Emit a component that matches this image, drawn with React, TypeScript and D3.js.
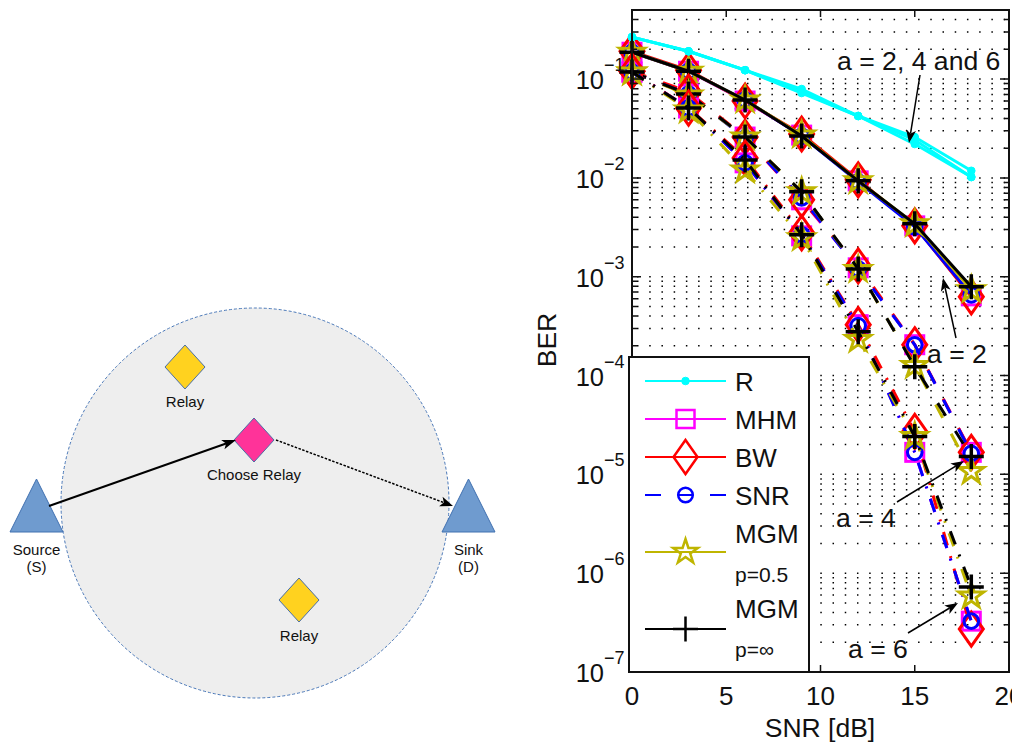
import React from "react";
import * as d3 from "d3";

const snrValues = [0, 3, 6, 9, 12, 15, 18];
const xTicks = [0, 5, 10, 15, 20];
const decades = [-7, -6, -5, -4, -3, -2, -1];

// BER readings: [a = 2, a = 4, a = 6]
const R = [
  [0.266, 0.191, 0.123, 0.0793, 0.0423, 0.0259, 0.0118],
  [0.266, 0.191, 0.123, 0.074, 0.0423, 0.0242, 0.0102],
  [0.266, 0.191, 0.123, 0.0722, 0.0423, 0.022, 0.0102],
];
const MHM = [
  [0.187, 0.12, 0.06, 0.0271, 0.00933, 0.00327, 6.4e-4],
  [0.1176, 0.0705, 0.0259, 0.006, 0.00123, 2.05e-4, 1.67e-5],
  [0.1176, 0.0509, 0.0142, 0.00259, 3.27e-4, 1.67e-5, 3.27e-7],
];
const BW = [
  [0.191, 0.123, 0.06, 0.0278, 0.00955, 0.00327, 6.26e-4],
  [0.12, 0.074, 0.0259, 0.006, 0.00129, 2.05e-4, 1.67e-5],
  [0.12, 0.0509, 0.0159, 0.00278, 3.27e-4, 2.72e-5, 2.72e-7],
];
const SNR = [
  [0.187, 0.12, 0.0614, 0.0265, 0.00912, 0.0032, 6.55e-4],
  [0.1176, 0.0705, 0.0253, 0.00628, 0.0012, 2.05e-4, 1.63e-5],
  [0.1176, 0.0509, 0.0142, 0.00266, 3.2e-4, 1.67e-5, 3.27e-7],
];
const MGM05 = [
  [0.187, 0.12, 0.0614, 0.0271, 0.00933, 0.00343, 7.38e-4],
  [0.1176, 0.0689, 0.0259, 0.00723, 0.00118, 1.26e-4, 1.07e-5],
  [0.1176, 0.0486, 0.012, 0.00248, 2.31e-4, 2.42e-5, 5.86e-7],
];
const MGMinf = [
  [0.187, 0.12, 0.0614, 0.0265, 0.00933, 0.00343, 7.92e-4],
  [0.1176, 0.0705, 0.0259, 0.00723, 0.0012, 1.23e-4, 1.52e-5],
  [0.1176, 0.0509, 0.0152, 0.00266, 2.78e-4, 2.42e-5, 7.23e-7],
];

type Kind = "dot" | "square" | "diamond" | "circle" | "star" | "plus";
const seriesList: { data: number[][]; color: string; kind: Kind }[] = [
  { data: MHM, color: "#ff00ff", kind: "square" },
  { data: BW, color: "#ff0000", kind: "diamond" },
  { data: SNR, color: "#0000ff", kind: "circle" },
  { data: MGM05, color: "#bfb500", kind: "star" },
  { data: MGMinf, color: "#000000", kind: "plus" },
];
const dashes = [undefined, "15 18", "14 11 2 11"];

const legendRows = [
  { label: "R", sub: "", color: "#00ffff", kind: "dot" as Kind, y: 381, base: 391, dash: undefined },
  { label: "MHM", sub: "", color: "#ff00ff", kind: "square" as Kind, y: 419, base: 429, dash: undefined },
  { label: "BW", sub: "", color: "#ff0000", kind: "diamond" as Kind, y: 457, base: 467, dash: undefined },
  { label: "SNR", sub: "", color: "#0000ff", kind: "circle" as Kind, y: 495, base: 505, dash: "16 17 15 17 16" },
  { label: "MGM", sub: "p=0.5", color: "#bfb500", kind: "star" as Kind, y: 552, base: 543, dash: undefined },
  { label: "MGM", sub: "p=∞", color: "#000000", kind: "plus" as Kind, y: 629, base: 618, dash: undefined },
];

const annotations = [
  { text: "a = 2, 4 and 6", tx: 837, ty: 70, from: [920, 75], to: [909, 143] },
  { text: "a = 2", tx: 927, ty: 363, from: [956, 338], to: [943, 278] },
  { text: "a = 4", tx: 836, ty: 527, from: [897, 502], to: [964, 461] },
  { text: "a = 6", tx: 848, ty: 658, from: [908, 633], to: [958, 603] },
];

const relayDiamonds = [
  { cx: 185, cy: 367, fill: "#ffd21f", label: "Relay", base: 407 },
  { cx: 299, cy: 600, fill: "#ffd21f", label: "Relay", base: 641 },
  { cx: 254, cy: 440, fill: "#ff3399", label: "Choose Relay", base: 480 },
];
const endpoints = [
  { cx: 36.5, top: "Source", bottom: "(S)" },
  { cx: 468.5, top: "Sink", bottom: "(D)" },
];

const plot = { left: 632, right: 1009, top: 10, bottom: 672 };
const FONT = "'Liberation Sans', Arial, sans-serif";

const xScale = d3.scaleLinear().domain([0, 20]).range([plot.left, plot.right]);
const yScale = d3.scaleLog().domain([1e-7, 0.5]).range([plot.bottom, plot.top]);
const lineGen = d3
  .line<number>()
  .x((_, i) => xScale(snrValues[i]))
  .y((v) => yScale(v));
const starPath = d3.symbol().type(d3.symbolStar).size(190)() as string;

function Marker({ kind, color, x, y, sw }: { kind: Kind; color: string; x: number; y: number; sw: number }) {
  const t = `translate(${x},${y})`;
  switch (kind) {
    case "dot":
      return <circle cx={x} cy={y} r={3.8} fill={color} stroke={color} strokeWidth={1} />;
    case "square":
      return <rect x={x - 9} y={y - 9} width={18} height={18} fill="none" stroke={color} strokeWidth={sw} />;
    case "diamond":
      return <path transform={t} d="M0,-17L12,0L0,17L-12,0Z" fill="none" stroke={color} strokeWidth={sw} />;
    case "circle":
      return <circle cx={x} cy={y} r={7.3} fill="none" stroke={color} strokeWidth={sw} />;
    case "star":
      return <path transform={t} d={starPath} fill="none" stroke={color} strokeWidth={sw} />;
    case "plus":
      return <path transform={t} d="M-12.5,0H12.5M0,-12.5V12.5" fill="none" stroke={color} strokeWidth={sw} />;
  }
}

function Arrow({ from, to, w = 1.5, len = 13, half = 5, dash }: { from: number[]; to: number[]; w?: number; len?: number; half?: number; dash?: string }) {
  const dx = to[0] - from[0];
  const dy = to[1] - from[1];
  const L = Math.hypot(dx, dy);
  const ux = dx / L;
  const uy = dy / L;
  const bx = to[0] - ux * len;
  const by = to[1] - uy * len;
  const nx = bx + ux * len * 0.25;
  const ny = by + uy * len * 0.25;
  return (
    <g>
      <line x1={from[0]} y1={from[1]} x2={nx} y2={ny} stroke="#000" strokeWidth={w} strokeDasharray={dash} />
      <path
        d={`M${to[0]},${to[1]}L${bx - uy * half},${by + ux * half}L${nx},${ny}L${bx + uy * half},${by - ux * half}Z`}
        fill="#000"
      />
    </g>
  );
}

function SeriesGroup({ data, color, kind, idx }: { data: number[]; color: string; kind: Kind; idx: number }) {
  return (
    <g>
      <path d={lineGen(data) as string} fill="none" stroke={color} strokeWidth={3} strokeDasharray={dashes[idx]} />
      {data.map((v, i) => (
        <Marker key={i} kind={kind} color={color} x={xScale(snrValues[i])} y={yScale(v)} sw={kind === "plus" ? 3.5 : 3} />
      ))}
    </g>
  );
}

export default function App() {
  const minorValues: number[] = [];
  [-8, ...decades].forEach((e) => {
    for (let m = 1; m <= 9; m++) {
      const v = m * Math.pow(10, e);
      if (v >= 1e-7 && v <= 0.5) minorValues.push(v);
    }
  });
  return (
    <svg
      width={1019}
      height={742}
      viewBox="0 0 1019 742"
      style={{ position: "absolute", left: 0, top: 0, background: "#fff" }}
      fontFamily={FONT}
    >
      <defs>
        <clipPath id="pageClip">
          <rect x={0} y={0} width={1012} height={742} />
        </clipPath>
      </defs>

      {/* Network diagram */}
      <ellipse cx={255} cy={503} rx={194} ry={195} fill="#eeeeee" stroke="#4a78b8" strokeWidth={1} strokeDasharray="3 2" />
      {endpoints.map((d) => (
        <g key={d.top}>
          <path
            d={`M${d.cx},479L${d.cx + 26.5},532L${d.cx - 26.5},532Z`}
            fill="#6f9bcf"
            stroke="#4070b0"
            strokeWidth={1}
          />
          <text x={d.cx} y={555} textAnchor="middle" fontSize={15} fill="#111">{d.top}</text>
          <text x={d.cx} y={572} textAnchor="middle" fontSize={15} fill="#111">{d.bottom}</text>
        </g>
      ))}
      {relayDiamonds.map((d, i) => (
        <g key={i}>
          <path
            d={`M${d.cx},${d.cy - 22}L${d.cx + 20},${d.cy}L${d.cx},${d.cy + 22}L${d.cx - 20},${d.cy}Z`}
            fill={d.fill}
            stroke="#4a6fa5"
            strokeWidth={1}
          />
          <text x={d.cx} y={d.base} textAnchor="middle" fontSize={15} fill="#111">{d.label}</text>
        </g>
      ))}
      <Arrow from={[49, 506]} to={[236, 440]} w={2} len={14} half={5} />
      <Arrow from={[276, 440]} to={[453, 506]} w={1.5} len={13} half={5} dash="2.5 1.5" />

      {/* Grid */}
      {minorValues.map((v) => (
        <line
          key={v}
          x1={plot.left + 5}
          x2={plot.right}
          y1={yScale(v)}
          y2={yScale(v)}
          stroke="#000"
          strokeWidth={1.5}
          strokeDasharray="1.5 10.72"
        />
      ))}

      {/* Series */}
      {[0, 1, 2].map((idx) => (
        <g key={idx}>
          {seriesList.map((s) => (
            <SeriesGroup key={s.kind} data={s.data[idx]} color={s.color} kind={s.kind} idx={idx} />
          ))}
        </g>
      ))}
      {[0, 1, 2].map((idx) => (
        <SeriesGroup key={idx} data={R[idx]} color="#00ffff" kind="dot" idx={0} />
      ))}

      {/* Axes frame and ticks */}
      <rect
        x={plot.left}
        y={plot.top}
        width={plot.right - plot.left}
        height={plot.bottom - plot.top}
        fill="none"
        stroke="#111"
        strokeWidth={2}
      />
      {minorValues.map((v) => {
        const major = Math.abs(Math.log10(v) - Math.round(Math.log10(v))) < 1e-6;
        const len = major ? 9 : 5;
        const y = yScale(v);
        return (
          <path key={v} d={`M${plot.left},${y}h${len}M${plot.right},${y}h${-len}`} stroke="#111" strokeWidth={1.5} fill="none" />
        );
      })}
      {xTicks.map((t) => (
        <g key={t}>
          <path
            d={`M${xScale(t)},${plot.bottom}v-7M${xScale(t)},${plot.top}v7`}
            stroke="#111"
            strokeWidth={1.5}
          />
          <text x={xScale(t)} y={705} textAnchor="middle" fontSize={26} fill="#111" clipPath="url(#pageClip)">{t}</text>
        </g>
      ))}
      {decades.map((e) => (
        <g key={e} fill="#111">
          <text x={604} y={yScale(Math.pow(10, e)) + 10} textAnchor="end" fontSize={25.5}>10</text>
          <text x={604} y={yScale(Math.pow(10, e)) - 8} fontSize={18}>{"\u2212" + Math.abs(e)}</text>
        </g>
      ))}
      <text x={820} y={737} textAnchor="middle" fontSize={26.5} fill="#111">SNR [dB]</text>
      <text transform="translate(556,340) rotate(-90)" textAnchor="middle" fontSize={26.5} fill="#111">BER</text>

      {/* Annotations */}
      {annotations.map((a) => (
        <g key={a.text}>
          <Arrow from={a.from} to={a.to} />
          <text x={a.tx} y={a.ty} fontSize={26.6} fill="#111">{a.text}</text>
        </g>
      ))}

      {/* Legend */}
      <rect x={629} y={357} width={180} height={315} fill="#fff" stroke="#111" strokeWidth={2} />
      {legendRows.map((r, i) => (
        <g key={i}>
          <line x1={645} x2={726} y1={r.y} y2={r.y} stroke={r.color} strokeWidth={2.2} strokeDasharray={r.dash} />
          <Marker kind={r.kind} color={r.color} x={685.5} y={r.y} sw={2.5} />
          <text x={735} y={r.base} fontSize={26} fill="#111">{r.label}</text>
          {r.sub && (
            <text x={735} y={r.base + 39} fontSize={21} fill="#111">{r.sub}</text>
          )}
        </g>
      ))}
    </svg>
  );
}
